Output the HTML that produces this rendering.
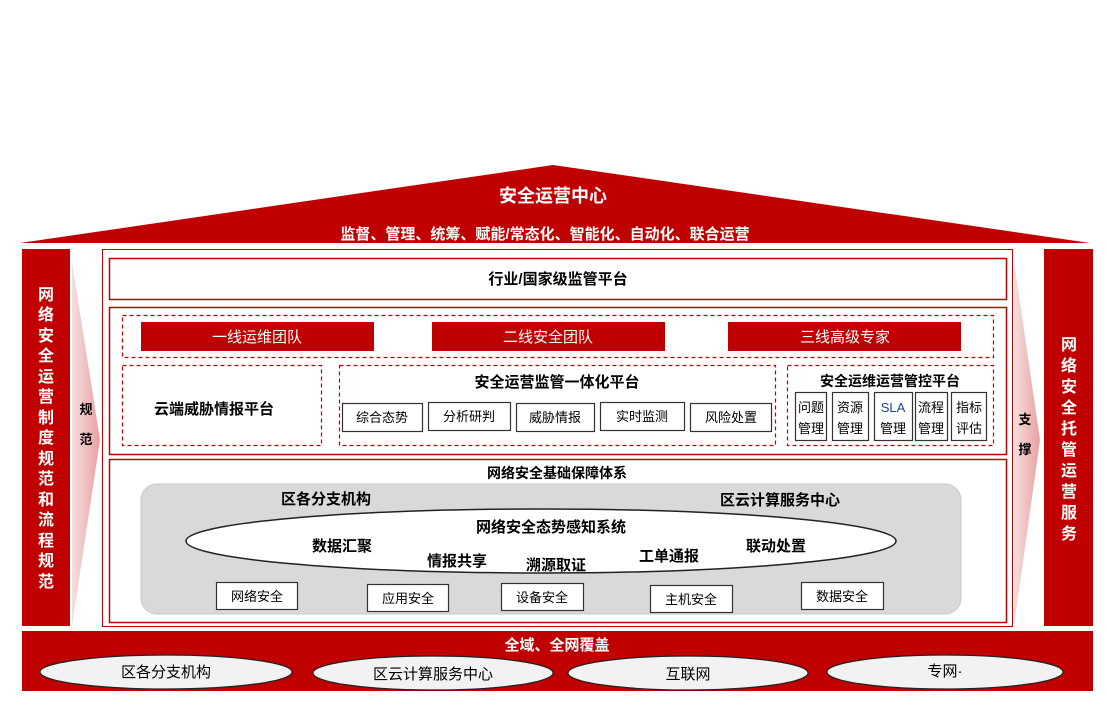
<!DOCTYPE html>
<html><head><meta charset="utf-8"><style>
html,body{margin:0;padding:0;background:#fff;}
svg{display:block;font-family:"Liberation Sans","Noto Sans CJK SC",sans-serif;}
</style></head><body>
<svg width="1106" height="705" viewBox="0 0 1106 705" xmlns="http://www.w3.org/2000/svg">
<defs>
<linearGradient id="ag" x1="0" x2="1" y1="0" y2="0">
<stop offset="0" stop-color="#f6dede"/><stop offset="1" stop-color="#e8a0a0"/></linearGradient>
<linearGradient id="ag2" x1="0" x2="1" y1="0" y2="0">
<stop offset="0" stop-color="#f6dede"/><stop offset="1" stop-color="#e8a0a0"/></linearGradient>
</defs>
<rect width="1106" height="705" fill="#fff"/>
<!-- roof -->
<polygon points="20,243 553,165 1090,243" fill="#c00000"/>
<text x="553" y="202" font-size="18" font-weight="bold" fill="#fff" text-anchor="middle">安全运营中心</text>
<text x="545" y="239" font-size="15" font-weight="bold" fill="#fff" text-anchor="middle">监督、管理、统筹、赋能/常态化、智能化、自动化、联合运营</text>
<!-- left column -->
<rect x="22" y="249" width="48" height="377" fill="#c00000"/>
<g font-size="16" font-weight="bold" fill="#fff" text-anchor="middle">
<text x="46" y="300">网</text><text x="46" y="320">络</text><text x="46" y="341">安</text><text x="46" y="361">全</text><text x="46" y="382">运</text><text x="46" y="402">营</text><text x="46" y="423">制</text><text x="46" y="443">度</text><text x="46" y="464">规</text><text x="46" y="484">范</text><text x="46" y="505">和</text><text x="46" y="525">流</text><text x="46" y="546">程</text><text x="46" y="566">规</text><text x="46" y="587">范</text>
</g>
<polygon points="72,262 100,440 72,626" fill="url(#ag)"/>
<text x="86" y="414" font-size="13" font-weight="bold" text-anchor="middle">规</text>
<text x="86" y="444" font-size="13" font-weight="bold" text-anchor="middle">范</text>
<!-- right column -->
<polygon points="1014,262 1040,440 1014,626" fill="url(#ag2)"/>
<text x="1025" y="424" font-size="13" font-weight="bold" text-anchor="middle">支</text>
<text x="1025" y="454" font-size="13" font-weight="bold" text-anchor="middle">撑</text>
<rect x="1044" y="249" width="49" height="377" fill="#c00000"/>
<g font-size="16" font-weight="bold" fill="#fff" text-anchor="middle">
<text x="1069" y="350">网</text><text x="1069" y="371">络</text><text x="1069" y="392">安</text><text x="1069" y="413">全</text><text x="1069" y="434">托</text><text x="1069" y="455">管</text><text x="1069" y="476">运</text><text x="1069" y="497">营</text><text x="1069" y="518">服</text><text x="1069" y="539">务</text>
</g>
<!-- main frame -->
<rect x="102.5" y="249.5" width="910" height="377" fill="none" stroke="#c00000" stroke-width="1"/>
<rect x="109.5" y="258.5" width="897" height="41" fill="#fff" stroke="#c00000" stroke-width="1.5"/>
<text x="558" y="284" font-size="15" font-weight="bold" text-anchor="middle">行业/国家级监管平台</text>
<rect x="109.5" y="307.5" width="897" height="147" fill="#fff" stroke="#c00000" stroke-width="1.5"/>
<g fill="none" stroke="#c00000" stroke-width="1.2" stroke-dasharray="4,3">
<rect x="122.5" y="315.5" width="871" height="42"/>
<rect x="122.5" y="365.5" width="199" height="80"/>
<rect x="339.5" y="365.5" width="436" height="80"/>
<rect x="787.5" y="365.5" width="206" height="80"/>
</g>
<rect x="141" y="322" width="233" height="29" fill="#c00000"/>
<rect x="432" y="322" width="233" height="29" fill="#c00000"/>
<rect x="728" y="322" width="233" height="29" fill="#c00000"/>
<g font-size="15" fill="#fff" text-anchor="middle">
<text x="257" y="342">一线运维团队</text><text x="548" y="342">二线安全团队</text><text x="845" y="342">三线高级专家</text>
</g>
<text x="214" y="414" font-size="15" font-weight="bold" text-anchor="middle">云端威胁情报平台</text>
<text x="557" y="387" font-size="15" font-weight="bold" text-anchor="middle">安全运营监管一体化平台</text>
<text x="890" y="386" font-size="14" font-weight="bold" text-anchor="middle">安全运维运营管控平台</text>
<g fill="#fff" stroke="#333" stroke-width="1.2">
<rect x="342.5" y="403.5" width="80" height="28"/><rect x="428.5" y="402.5" width="82" height="28"/><rect x="516.5" y="403.5" width="78" height="28"/><rect x="600.5" y="402.5" width="84" height="28"/><rect x="690.5" y="403.5" width="81" height="28"/>
<rect x="795.5" y="392.5" width="31" height="48"/><rect x="832.5" y="392.5" width="36" height="48"/><rect x="874.5" y="392.5" width="38" height="48"/><rect x="915.5" y="392.5" width="32" height="48"/><rect x="951.5" y="392.5" width="35" height="48"/>
</g>
<g font-size="13" text-anchor="middle">
<text x="382" y="422">综合态势</text><text x="469" y="421">分析研判</text><text x="555" y="422">威胁情报</text><text x="642" y="421">实时监测</text><text x="731" y="422">风险处置</text>
<text x="811" y="412">问题</text><text x="811" y="433">管理</text>
<text x="850" y="412">资源</text><text x="850" y="433">管理</text>
<text x="893" y="412" fill="#1f3f9f">SLA</text><text x="893" y="433">管理</text>
<text x="931" y="412">流程</text><text x="931" y="433">管理</text>
<text x="969" y="412">指标</text><text x="969" y="433">评估</text>
</g>
<!-- bottom section -->
<rect x="109.5" y="459.5" width="897" height="163" fill="#fff" stroke="#c00000" stroke-width="1.5"/>
<text x="557" y="478" font-size="14" font-weight="bold" text-anchor="middle">网络安全基础保障体系</text>
<rect x="141" y="484" width="820" height="130" rx="16" fill="#d9d9d9" stroke="#c8c8c8"/>
<text x="326" y="504" font-size="15" font-weight="bold" text-anchor="middle">区各分支机构</text>
<text x="780" y="505" font-size="15" font-weight="bold" text-anchor="middle">区云计算服务中心</text>
<ellipse cx="541" cy="541" rx="355" ry="32" fill="#fff" stroke="#222" stroke-width="1.5"/>
<g font-size="15" font-weight="bold" text-anchor="middle">
<text x="551" y="532">网络安全态势感知系统</text>
<text x="342" y="551">数据汇聚</text>
<text x="457" y="566">情报共享</text>
<text x="556" y="570">溯源取证</text>
<text x="669" y="561">工单通报</text>
<text x="776" y="551">联动处置</text>
</g>
<g fill="#fff" stroke="#333" stroke-width="1.2">
<rect x="216.5" y="582.5" width="81" height="27"/><rect x="367.5" y="584.5" width="81" height="27"/><rect x="501.5" y="583.5" width="82" height="27"/><rect x="650.5" y="585.5" width="82" height="27"/><rect x="801.5" y="582.5" width="82" height="27"/>
</g>
<g font-size="13" text-anchor="middle">
<text x="257" y="601">网络安全</text><text x="408" y="603">应用安全</text><text x="542" y="602">设备安全</text><text x="691" y="604">主机安全</text><text x="842" y="601">数据安全</text>
</g>
<!-- bottom band -->
<rect x="22" y="631" width="1071" height="60" fill="#c00000"/>
<text x="557" y="650" font-size="15" font-weight="bold" fill="#fff" text-anchor="middle">全域、全网覆盖</text>
<g fill="#f2f2f2" stroke="#222" stroke-width="1.2">
<ellipse cx="166" cy="672" rx="126" ry="17"/>
<ellipse cx="433" cy="673" rx="120" ry="17"/>
<ellipse cx="688" cy="673" rx="120" ry="17"/>
<ellipse cx="945" cy="672" rx="118" ry="17"/>
</g>
<g font-size="15" text-anchor="middle">
<text x="166" y="677">区各分支机构</text><text x="433" y="679">区云计算服务中心</text><text x="688" y="679">互联网</text><text x="945" y="676">专网·</text>
</g>
</svg>
</body></html>
